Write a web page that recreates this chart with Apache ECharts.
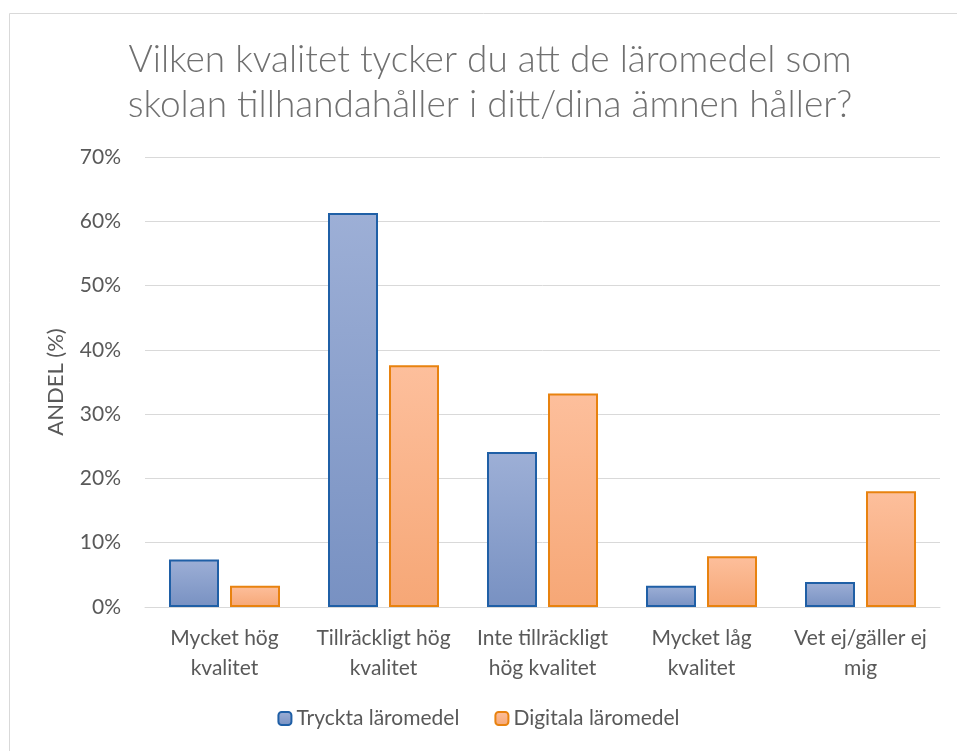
<!DOCTYPE html>
<html>
<head>
  <meta charset="UTF-8">
  <title>Läromedel</title>
  <script src="https://cdn.jsdelivr.net/npm/echarts@6/dist/echarts.min.js"></script>
  <style>
    html, body { margin: 0; padding: 0; background: #fff; }
    #main { width: 957px; height: 751px; }
  </style>
</head>
<body>
<div id="main"></div>
<script type="text/javascript">
  var categories = ['Mycket hög\nkvalitet', 'Tillräckligt hög\nkvalitet', 'Inte tillräckligt\nhög kvalitet', 'Mycket låg\nkvalitet', 'Vet ej/gäller ej\nmig'];
  var tryckta = [7.4, 61.3, 24.1, 3.3, 3.9];
  var digitala = [3.3, 37.6, 33.2, 7.9, 18.0];
  var seriesNames = ['Tryckta läromedel', 'Digitala läromedel'];

  var textColor = '#595959';
  var font = 'Lato';

  function grad(top, bottom) {
    return new echarts.graphic.LinearGradient(0, 0, 0, 1, [
      { offset: 0, color: top },
      { offset: 1, color: bottom }
    ]);
  }

  var myChart = echarts.init(document.getElementById('main'));

  var option = {
    animation: false,
    textStyle: { fontFamily: font },
    graphic: [{
      type: 'rect',
      shape: { x: 9.5, y: 13.5, width: 1000, height: 800 },
      style: { fill: 'none', stroke: '#d9d9d9', lineWidth: 1 },
      silent: true
    }],
    title: {
      text: 'Vilken kvalitet tycker du att de läromedel som\nskolan tillhandahåller i ditt/dina ämnen håller?',
      left: 485,
      textAlign: 'center',
      top: 33,
      textStyle: {
        fontFamily: font,
        fontWeight: 300,
        fontSize: 37,
        color: '#707070',
        lineHeight: 45
      }
    },
    legend: {
      bottom: 17,
      left: 'center',
      itemWidth: 13,
      itemHeight: 13,
      itemGap: 35,
      textStyle: { fontFamily: font, fontSize: 21, color: textColor },
      data: seriesNames
    },
    grid: {
      left: 145,
      right: 17,
      top: 157,
      bottom: 144
    },
    xAxis: {
      type: 'category',
      data: categories,
      axisLine: { lineStyle: { color: '#d9d9d9', width: 1 } },
      axisTick: { show: false },
      axisLabel: {
        interval: 0,
        fontFamily: font,
        fontSize: 21,
        color: textColor,
        lineHeight: 30,
        margin: 16
      }
    },
    yAxis: {
      type: 'value',
      min: 0,
      max: 70,
      interval: 10,
      name: 'ANDEL (%)',
      nameLocation: 'middle',
      nameGap: 78,
      nameTextStyle: { fontFamily: font, fontSize: 22, color: textColor },
      axisLine: { show: false },
      axisTick: { show: false },
      axisLabel: {
        formatter: '{value}%',
        fontFamily: font,
        fontSize: 21,
        color: textColor,
        margin: 24
      },
      splitLine: { lineStyle: { color: '#d9d9d9', width: 1 } }
    },
    series: [{
      name: seriesNames[0],
      type: 'bar',
      data: tryckta,
      barWidth: 50,
      barGap: '22%',
      itemStyle: {
        color: grad('#9dafd6', '#7891c2'),
        borderColor: '#1f5fa6',
        borderWidth: 2
      }
    }, {
      name: seriesNames[1],
      type: 'bar',
      data: digitala,
      barWidth: 50,
      barGap: '22%',
      itemStyle: {
        color: grad('#fdbf9c', '#f6a776'),
        borderColor: '#e8820f',
        borderWidth: 2
      }
    }]
  };

  myChart.setOption(option);
</script>
</body>
</html>
